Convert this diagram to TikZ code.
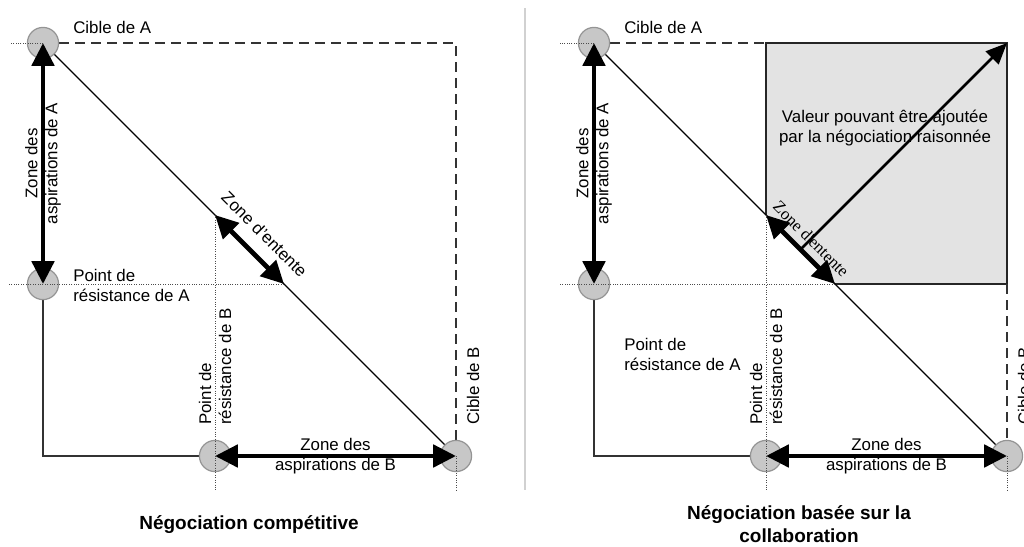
\documentclass[tikz,border=0pt]{standalone}
\usepackage{fontspec}
\setmainfont{Liberation Sans}
\newfontfamily\serifzone{Liberation Serif}
\usetikzlibrary{calc}
\usetikzlibrary{arrows.meta}

\begin{document}
\begin{tikzpicture}[x=0.025cm,y=-0.025cm,
  font=\fontsize{12}{14.2}\selectfont,
  pt/.style={circle,draw=black!42,fill=black!22,line width=0.03cm,minimum size=0.78cm,inner sep=0},
  zone/.style={line width=0.12cm,{Triangle[length=0.57cm,width=0.55cm]}-{Triangle[length=0.57cm,width=0.55cm]}},
  dots/.style={densely dotted,black!70,line width=0.025cm},
  dashline/.style={dash pattern=on 0.25cm off 0.15cm,black!80,line width=0.05cm},
  thin1/.style={line width=0.035cm},
  ttl/.style={font=\fontsize{13.5}{16}\selectfont\bfseries,align=center},
  lbl/.style={inner sep=0}]

\useasboundingbox (0,0) rectangle (1024,546);

\draw[black!18,line width=0.05cm] (525,8) -- (525,490);

% competitive
\coordinate (CA) at (43,43);
\coordinate (RA) at (43,284);
\coordinate (RB) at (215,456);
\coordinate (CB) at (456,456);
\coordinate (E1) at (215,215);
\coordinate (E2) at (284,284);

\draw[dashline] (CA) -- (CB |- CA) -- (CB);
\draw[thin1,black!80] (RA) -- (RA |- RB) -- (RB);
\draw[thin1] (CA) -- (CB);
\foreach \p in {CA,RA,RB,CB} \node[pt] (n\p) at (\p) {};
\draw[dots] (CA) -- +(-32,0);
\draw[dots] (E2) -- ($(RA)+(-35,0)$);
\draw[dots] (E1) -- (215,490);
\draw[dots] (CB) -- (456,490);

\draw[zone] (nCA.center) -- (nRA.center) node[midway,rotate=90,align=center] {Zone des\\aspirations de A};
\draw[zone] (E1) -- (E2) node[midway,sloped,above=0.2cm] {Zone d'entente};
\draw[zone] (nRB.center) -- (nCB.center) node[midway,align=center] {Zone des\\aspirations de B};

\node[lbl,anchor=west] (lCA) at (73,27) {Cible de A};
\node[lbl,anchor=west,align=left] (lRA) at (73,285) {Point de\\résistance de A};
\node[lbl,anchor=west,align=left,rotate=90] (lRB) at (215,425) {Point de\\résistance de B};
\node[lbl,anchor=west,rotate=90] (lCB) at (473,425) {Cible de B};
\node[ttl] (t1) at (249,525) {Négociation compétitive};

% collaboration
\begin{scope}[shift={(551,0)}]
\coordinate (CA2) at (43,43);
\coordinate (RA2) at (43,284);
\coordinate (RB2) at (215,456);
\coordinate (CB2) at (456,456);
\coordinate (F1) at (215,215);
\coordinate (F2) at (284,284);

\fill[black!11] (F1) -- (F1 |- CA2) -- (CB2 |- CA2) -- (CB2 |- RA2) -- (F2) -- cycle;
\draw[black!85,line width=0.05cm] (F1) -- (F1 |- CA2) -- (CB2 |- CA2) -- (CB2 |- RA2) -- (F2);
\draw[dashline] (CA2) -- (F1 |- CA2);
\draw[dashline] (CB2 |- RA2) -- (CB2);
\draw[thin1,black!80] (RA2) -- (RA2 |- RB2) -- (RB2);
\draw[thin1] (CA2) -- (CB2);
\foreach \p in {CA2,RA2,RB2,CB2} \node[pt] (n\p) at (\p) {};
\draw[dots] (CA2) -- +(-34,0);
\draw[dots] (F2) -- ($(RA2)+(-35,0)$);
\draw[dots] (F1) -- (215,490);
\draw[dots] (CB2) -- (456,490);

\draw[zone] (nCA2.center) -- (nRA2.center) node[midway,rotate=90,align=center] {Zone des\\aspirations de A};
\draw[zone] (F1) -- (F2) node[midway,sloped,above=0.05cm,font=\fontsize{12}{14.2}\serifzone] {Zone d'entente};
\draw[line width=0.07cm,-{Triangle[length=0.53cm,width=0.45cm]}] ($(F1)!0.5!(F2)$) -- (CB2 |- CA2);
\draw[zone] (nRB2.center) -- (nCB2.center) node[midway,align=center] {Zone des\\aspirations de B};

\node[align=center] (val) at (334,128) {Valeur pouvant être ajoutée\\par la négociation raisonnée};
\node[lbl,anchor=west] (lCA2) at (73,27) {Cible de A};
\node[lbl,anchor=west,align=left] (lRA2) at (73,354) {Point de\\résistance de A};
\node[lbl,anchor=west,align=left,rotate=90] (lRB2) at (215,425) {Point de\\résistance de B};
\node[lbl,anchor=west,rotate=90] (lCB2) at (473,425) {Cible de B};
\node[ttl] (t2) at (248,524) {Négociation basée sur la\\collaboration};
\end{scope}

\end{tikzpicture}
\end{document}
